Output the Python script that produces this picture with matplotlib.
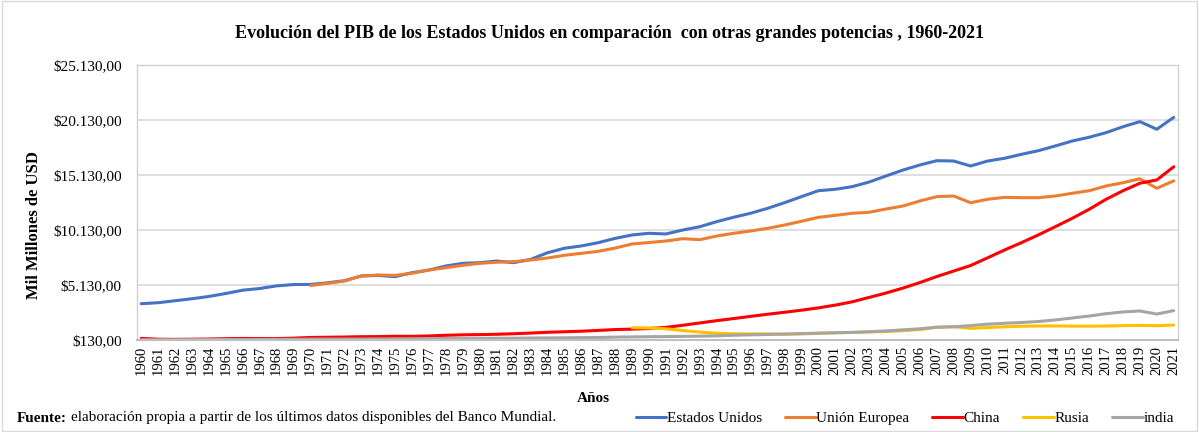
import numpy as np
import matplotlib
matplotlib.use('Agg')
import matplotlib.pyplot as plt
from matplotlib.patches import Rectangle

plt.rcParams['font.family'] = ['Liberation Serif', 'DejaVu Serif']

anios = list(range(1960, 2022))

# Mil millones de USD
estados_unidos = [3430, 3520, 3700, 3880, 4090, 4360, 4660, 4810, 5050, 5170,
                  5180, 5330, 5520, 5950, 6000, 5890, 6250, 6490, 6860, 7100,
                  7160, 7310, 7160, 7460, 8060, 8470, 8680, 8980, 9370, 9680,
                  9830, 9770, 10130, 10430, 10890, 11290, 11650, 12100, 12610, 13160,
                  13700, 13830, 14070, 14490, 15040, 15580, 16040, 16430, 16400, 15950,
                  16400, 16650, 17010, 17340, 17770, 18220, 18560, 18980, 19520, 19980,
                  19290, 20370]

union_europea = [None] * 10 + [
                  5080, 5280, 5490, 5950, 6040, 6000, 6200, 6490, 6700, 6920,
                  7100, 7200, 7250, 7400, 7580, 7830, 8010, 8190, 8490, 8860,
                  8990, 9130, 9340, 9250, 9580, 9830, 10040, 10280, 10580, 10920,
                  11280, 11460, 11650, 11740, 12040, 12310, 12770, 13160, 13220, 12610,
                  12920, 13100, 13070, 13070, 13220, 13470, 13700, 14130, 14430, 14790,
                  13920, 14600]

china = [280, 200, 190, 200, 220, 250, 270, 260, 260, 300,
         360, 380, 400, 430, 440, 470, 460, 500, 560, 600,
         620, 650, 700, 760, 830, 880, 930, 1000, 1080, 1120,
         1170, 1280, 1470, 1680, 1890, 2080, 2280, 2470, 2650, 2840,
         3050, 3300, 3600, 4000, 4400, 4850, 5350, 5900, 6400, 6900,
         7600, 8310, 8980, 9680, 10430, 11190, 12010, 12920, 13700, 14380,
         14680, 15880]

rusia = [None] * 29 + [
         1250,
         1220, 1150, 990, 850, 740, 700, 680, 690, 650, 680,
         740, 780, 820, 870, 900, 980, 1080, 1290, 1340, 1190,
         1260, 1330, 1380, 1400, 1410, 1390, 1390, 1400, 1440, 1460,
         1430, 1490]

india = [150, 155, 160, 165, 170, 175, 175, 180, 185, 195,
         210, 215, 215, 220, 225, 235, 240, 250, 265, 255,
         270, 285, 295, 310, 320, 330, 345, 360, 390, 410,
         430, 440, 460, 480, 510, 560, 600, 630, 670, 720,
         750, 790, 820, 880, 960, 1050, 1150, 1290, 1330, 1440,
         1570, 1650, 1720, 1810, 1950, 2130, 2310, 2520, 2680, 2770,
         2490, 2800]

series = [('Estados Unidos', estados_unidos, '#4472C4'),
          ('Unión Europea', union_europea, '#ED7D31'),
          ('China', china, '#FF0000'),
          ('Rusia', rusia, '#FFC000'),
          ('india', india, '#A5A5A5')]

W, H = 1199, 432
fig = plt.figure(figsize=(W / 100, H / 100), dpi=100)
fig.patches.append(Rectangle((0.002, 0.003), 0.996, 0.994, transform=fig.transFigure,
                             fill=False, edgecolor='#D9D9D9', linewidth=1))

ax = fig.add_axes([137 / W, 1 - 340 / H, (1178 - 137) / W, (340 - 65) / H])

x = np.arange(len(anios))
for nombre, valores, color in series:
    y = np.array([np.nan if v is None else v for v in valores], dtype=float)
    ax.plot(x, y, color=color, linewidth=2.2, label=nombre, solid_capstyle='round')

ax.set_xlim(-0.25, len(anios) - 0.75)
ax.set_ylim(130, 25130)
yticks = list(range(130, 25131, 5000))
ax.set_yticks(yticks)
ax.set_yticklabels(['$' + f'{v:,.2f}'.replace(',', 'X').replace('.', ',').replace('X', '.')
                    for v in yticks], fontsize=11)
ax.set_xticks(x)
ax.set_xticklabels([str(a) for a in anios], rotation=90, fontsize=10.5)
ax.tick_params(axis='both', length=0)
ax.tick_params(axis='y', pad=11)
ax.tick_params(axis='x', pad=4)
ax.grid(axis='y', color='#D9D9D9', linewidth=1.2)
ax.set_axisbelow(True)
for lado in ['top', 'right', 'left']:
    ax.spines[lado].set_color('#D0D0D0')
    ax.spines[lado].set_linewidth(1)
ax.spines['bottom'].set_color('#BFBFBF')
ax.spines['bottom'].set_linewidth(1.5)

fig.text(0.508, 1 - 33 / H,
         'Evolución del PIB de los Estados Unidos en comparación  con otras grandes potencias , 1960-2021',
         ha='center', va='center', fontsize=13, fontweight='bold')
fig.text(34 / W, 1 - 225 / H, 'Mil Millones de USD', rotation=90, ha='center', va='center',
         fontsize=12, fontweight='bold')
fig.text(593 / W, 1 - 398 / H, 'Años', ha='center', va='center', fontsize=11, fontweight='bold')

t1 = fig.text(17 / W, 1 - 418 / H, 'Fuente:', ha='left', va='center', fontsize=11, fontweight='bold')
ax.annotate('elaboración propia a partir de los últimos datos disponibles del Banco Mundial.',
            xy=(1, 0.5), xycoords=t1, xytext=(3, 0), textcoords='offset points',
            ha='left', va='center', fontsize=11, annotation_clip=False)

fig.legend(loc='center right', bbox_to_anchor=(1174 / W, 1 - 418 / H), ncol=5, frameon=False,
           fontsize=11, handlelength=2.0, handletextpad=0.05, columnspacing=1.5,
           borderaxespad=0, borderpad=0)

fig.savefig('out.png', dpi=100)
